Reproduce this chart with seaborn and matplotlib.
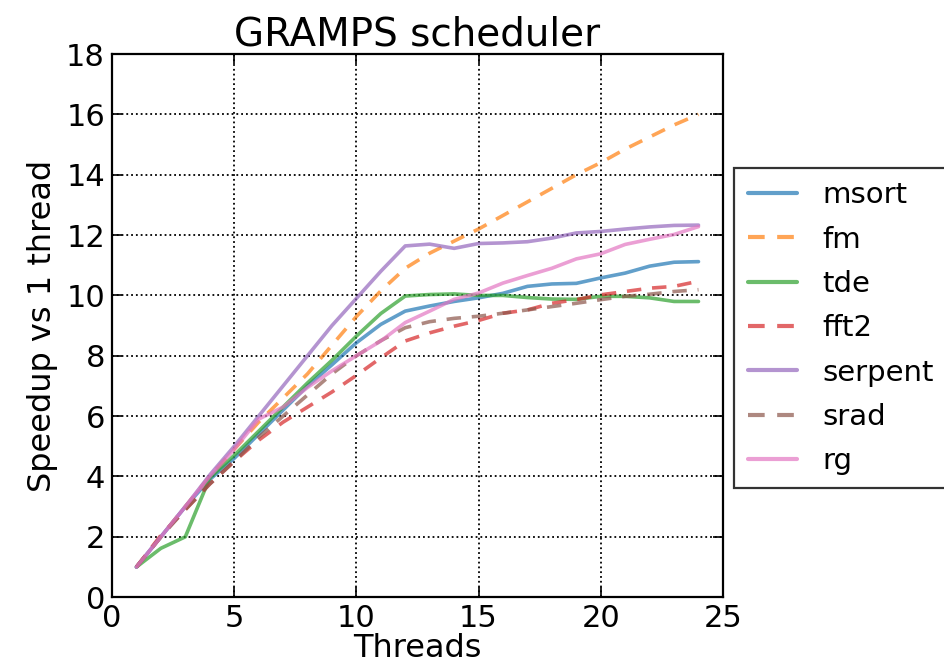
import pandas as pd
import numpy as np
import seaborn as sns
import matplotlib.pyplot as plt

threads = list(range(1, 25))

msort = [1.0, 2.0, 3.0, 3.9, 4.6, 5.4, 6.2, 7.0, 7.7, 8.43, 9.04, 9.48,
         9.65, 9.8, 9.92, 10.07, 10.3, 10.38, 10.4, 10.58, 10.74, 10.97, 11.1, 11.12]
fm = [1.0, 2.0, 3.0, 4.0, 4.9, 5.8, 6.6, 7.4, 8.35, 9.3, 10.15, 10.9,
      11.4, 11.8, 12.2, 12.65, 13.1, 13.55, 14.0, 14.4, 14.85, 15.25, 15.65, 16.0]
tde = [1.0, 1.62, 2.0, 3.95, 4.7, 5.5, 6.3, 7.1, 7.85, 8.65, 9.4, 9.98,
       10.03, 10.05, 10.0, 10.0, 9.93, 9.88, 9.87, 9.97, 9.97, 9.92, 9.8, 9.8]
fft2 = [1.0, 2.05, 2.9, 3.75, 4.5, 5.2, 5.8, 6.3, 6.8, 7.35, 7.93, 8.49,
        8.76, 8.98, 9.17, 9.41, 9.52, 9.74, 9.86, 10.02, 10.13, 10.24, 10.3, 10.47]
serpent = [1.0, 2.0, 3.0, 4.05, 5.0, 6.0, 7.0, 8.0, 9.0, 9.9, 10.8, 11.64,
           11.7, 11.56, 11.72, 11.74, 11.78, 11.9, 12.07, 12.12, 12.2, 12.27, 12.32, 12.33]
srad = [1.0, 2.0, 2.9, 3.75, 4.5, 5.3, 6.0, 6.7, 7.4, 8.0, 8.5, 8.93,
        9.13, 9.24, 9.31, 9.41, 9.52, 9.63, 9.74, 9.86, 9.97, 10.04, 10.13, 10.19]
rg = [1.0, 2.0, 3.0, 4.0, 4.9, 5.9, 6.3, 6.95, 7.5, 8.0, 8.49, 9.1,
      9.48, 9.87, 10.08, 10.41, 10.66, 10.9, 11.21, 11.38, 11.69, 11.86, 12.02, 12.28]

benchmarks = ["msort", "fm", "tde", "fft2", "serpent", "srad", "rg"]
series = [msort, fm, tde, fft2, serpent, srad, rg]
dashed = ["fm", "fft2", "srad"]

# long format for seaborn
df = pd.DataFrame({
    "Threads": threads * len(benchmarks),
    "Speedup": np.concatenate(series),
    "bench": np.repeat(benchmarks, len(threads)),
})

sns.set_style("ticks")
plt.rcParams["font.family"] = ["DejaVu Sans"]
for k in ["text.color", "axes.labelcolor", "xtick.color", "ytick.color"]:
    plt.rcParams[k] = "black"

fig = plt.figure(figsize=(9.45, 6.71), dpi=100)
ax = fig.add_axes([0.1185, 0.110, 0.6465, 0.8095])

dashes = {b: (4, 3) if b in dashed else "" for b in benchmarks}
sns.lineplot(data=df, x="Threads", y="Speedup", hue="bench", style="bench",
             hue_order=benchmarks, style_order=benchmarks,
             palette="tab10", dashes=dashes, linewidth=2.6, alpha=0.7, ax=ax)

ax.set_xlim(0, 25)
ax.set_ylim(0, 18)
ax.set_xticks(range(0, 26, 5))
ax.set_yticks(range(0, 19, 2))
ax.grid(True, linestyle=":", color="black", linewidth=1.3)
ax.tick_params(direction="in", top=True, right=True, labelsize=22, length=7,
               width=1.2, pad=5)
for s in ax.spines.values():
    s.set_linewidth(1.6)
    s.set_color("black")

ax.set_title("GRAMPS scheduler", fontsize=28, pad=6)
ax.set_xlabel("Threads", fontsize=23, labelpad=0)
ax.set_ylabel("Speedup vs 1 thread", fontsize=23, labelpad=6)

handles, labels = ax.get_legend_handles_labels()
leg = ax.legend(handles, labels, loc="center left", bbox_to_anchor=(0.995, 0.495),
                fontsize=21, frameon=True, fancybox=False, edgecolor="black",
                handlelength=1.7, borderpad=0.45, handletextpad=0.85,
                labelspacing=0.56)
leg.get_frame().set_linewidth(1.6)
for line in leg.get_lines():
    line.set_linewidth(3)

plt.savefig("out.png", dpi=100)
